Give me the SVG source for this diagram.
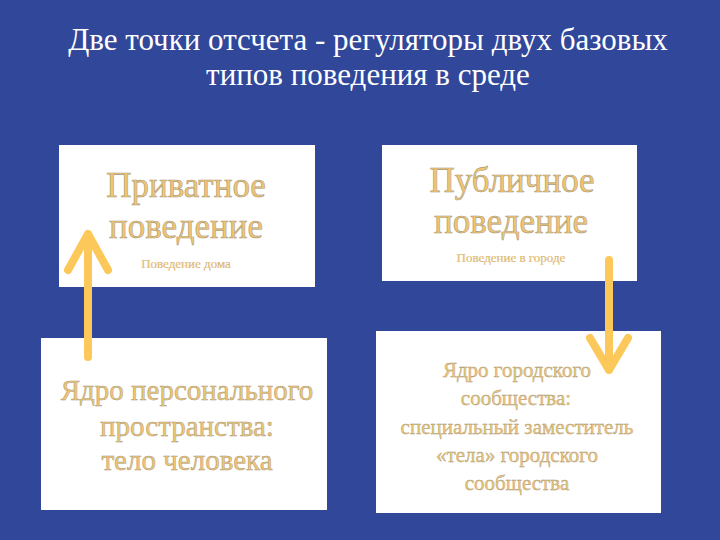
<svg xmlns="http://www.w3.org/2000/svg" width="720" height="540" viewBox="0 0 720 540">
<rect width="720" height="540" fill="#31479a"/>
<g id="title">
<text x="368" y="50" font-family="Liberation Serif" font-size="31" fill="#ffffff" text-anchor="middle">Две точки отсчета - регуляторы двух базовых</text>
<text x="368" y="85" font-family="Liberation Serif" font-size="31" fill="#ffffff" text-anchor="middle">типов поведения в среде</text>
</g>
<g id="private">
<rect x="59" y="145" width="256" height="142" fill="#ffffff"/>
<text x="186" y="197" font-family="Liberation Serif" font-size="35" fill="#f3c66d" stroke="#a89a80" stroke-width="0.6" text-anchor="middle">Приватное</text>
<text x="186" y="238" font-family="Liberation Serif" font-size="35" fill="#f3c66d" stroke="#a89a80" stroke-width="0.6" text-anchor="middle">поведение</text>
<text x="186" y="268" font-family="Liberation Serif" font-size="13" fill="#f3c66d" stroke="#a89a80" stroke-width="0.2" text-anchor="middle">Поведение дома</text>
</g>
<g id="public">
<rect x="382" y="145" width="255" height="136" fill="#ffffff"/>
<text x="512" y="192" font-family="Liberation Serif" font-size="35" fill="#f3c66d" stroke="#a89a80" stroke-width="0.6" text-anchor="middle">Публичное</text>
<text x="511" y="233" font-family="Liberation Serif" font-size="35" fill="#f3c66d" stroke="#a89a80" stroke-width="0.6" text-anchor="middle">поведение</text>
<text x="511" y="262" font-family="Liberation Serif" font-size="13" fill="#f3c66d" stroke="#a89a80" stroke-width="0.2" text-anchor="middle">Поведение в городе</text>
</g>
<g id="personal">
<rect x="41" y="338" width="286" height="172" fill="#ffffff"/>
<text x="187" y="400" font-family="Liberation Serif" font-size="29" fill="#f3c66d" stroke="#a89a80" stroke-width="0.5" text-anchor="middle">Ядро персонального</text>
<text x="187" y="436" font-family="Liberation Serif" font-size="29" fill="#f3c66d" stroke="#a89a80" stroke-width="0.5" text-anchor="middle">пространства:</text>
<text x="187" y="470" font-family="Liberation Serif" font-size="29" fill="#f3c66d" stroke="#a89a80" stroke-width="0.5" text-anchor="middle">тело человека</text>
</g>
<g id="urban">
<rect x="376" y="331" width="285" height="182" fill="#ffffff"/>
<text x="517" y="377" font-family="Liberation Serif" font-size="21" fill="#f3c66d" stroke="#a89a80" stroke-width="0.4" text-anchor="middle">Ядро городского</text>
<text x="516" y="405" font-family="Liberation Serif" font-size="21" fill="#f3c66d" stroke="#a89a80" stroke-width="0.4" text-anchor="middle">сообщества:</text>
<text x="517" y="434" font-family="Liberation Serif" font-size="21" fill="#f3c66d" stroke="#a89a80" stroke-width="0.4" text-anchor="middle">специальный заместитель</text>
<text x="517" y="462" font-family="Liberation Serif" font-size="21" fill="#f3c66d" stroke="#a89a80" stroke-width="0.4" text-anchor="middle">«тела» городского</text>
<text x="517" y="490" font-family="Liberation Serif" font-size="21" fill="#f3c66d" stroke="#a89a80" stroke-width="0.4" text-anchor="middle">сообщества</text>
</g>
<g id="connectors" fill="none" stroke="#fcc85a" stroke-width="8" stroke-linecap="round" stroke-linejoin="round">
<path d="M88 357 V234 M68 270 L88 234 L108 270"/>
<path d="M609 260 V370 M590 338 L609 370 L628 338"/>
</g>
</svg>
